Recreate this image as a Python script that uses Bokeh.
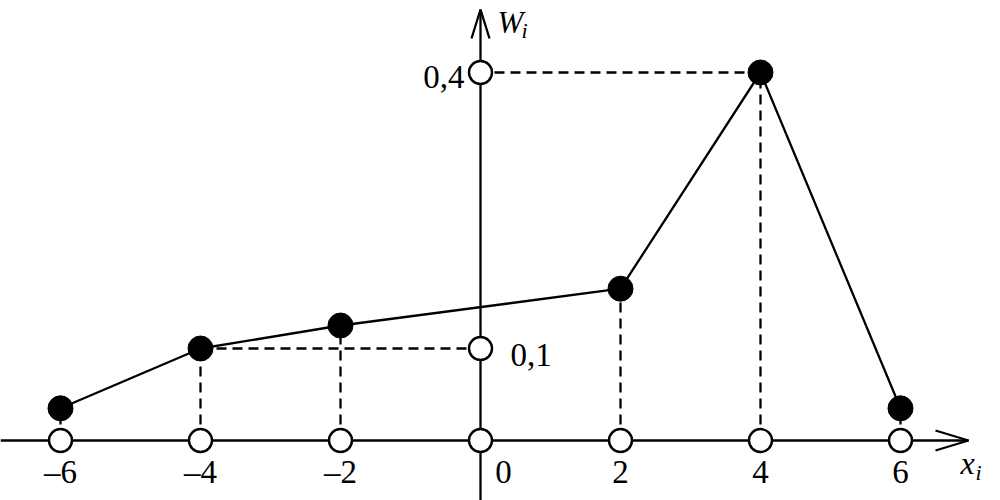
from bokeh.plotting import figure
from bokeh.models import Range1d
from bokeh.core.properties import value
from bokeh.embed import file_html
from bokeh.resources import INLINE

# ---- data ----
x_vals = [-6, -4, -2, 2, 4, 6]
w_vals = [0.035, 0.1, 0.125, 0.165, 0.4, 0.035]
x_ticks = [-6, -4, -2, 2, 4, 6]
x_tick_labels = ["\u20136", "\u20134", "\u20132", "2", "4", "6"]
y_ticks = [0.1, 0.4]
y_tick_labels = ["0,1", "0,4"]
x_axis_name = "x"
y_axis_name = "W"
sub_name = "i"

# ---- layout ----
W, H = 1000, 500
PX = 70.0    # pixels per x unit
PY = 920.0   # pixels per y unit
OX, OY = 480, 440  # origin in canvas px
FONT = "Liberation Serif"
LW = 2.3

def dx(px):
    return px / PX

def dy(px):
    return px / PY

x_range = Range1d(-OX / PX, (W - OX) / PX)
y_range = Range1d(-(H - OY) / PY, OY / PY)

p = figure(width=W, height=H, x_range=x_range, y_range=y_range,
           output_backend="svg", toolbar_location=None, min_border=0)
p.axis.visible = False
p.grid.visible = False
p.outline_line_color = None
p.background_fill_color = "white"

# axes with arrows
x_tip = dx(968 - 480)
y_tip = dy(440 - 9)
p.line([x_range.start, x_tip], [0, 0], line_color="black", line_width=LW)
p.line([x_tip - dx(33), x_tip, x_tip - dx(33)], [dy(10), 0, -dy(10)], line_color="black", line_width=LW)
p.line([0, 0], [y_range.start, y_tip], line_color="black", line_width=LW)
p.line([-dx(9), 0, dx(9)], [y_tip - dy(29), y_tip, y_tip - dy(29)], line_color="black", line_width=LW)

# dashed guides
p.segment(x0=x_vals, y0=[0] * len(x_vals), x1=x_vals, y1=w_vals,
          line_color="black", line_width=LW, line_dash="10 6")
for yt in y_ticks:
    xs = [x for x, w in zip(x_vals, w_vals) if w == yt]
    if xs:
        p.segment(x0=[xs[0]], y0=[yt], x1=[0], y1=[yt],
                  line_color="black", line_width=LW, line_dash="10 6")

# polygon
p.line(x_vals, w_vals, line_color="black", line_width=LW)

# open tick circles
p.scatter(x_ticks + [0], [0] * (len(x_ticks) + 1), size=23, marker="circle",
          fill_color="white", line_color="black", line_width=2.4)
p.scatter([0] * len(y_ticks), y_ticks, size=23, marker="circle",
          fill_color="white", line_color="black", line_width=2.4)

# filled points
p.scatter(x_vals, w_vals, size=25, marker="circle", fill_color="black", line_color="black")

# tick labels
FS = "33px"
p.text(x=x_ticks, y=[0] * len(x_ticks), text=x_tick_labels, text_font=value(FONT),
       text_font_size=FS, text_align="center", text_baseline="middle",
       y_offset=31, text_color="black")
p.text(x=[0], y=[0], text=["0"], text_font=value(FONT), text_font_size=FS,
       text_align="center", text_baseline="middle", x_offset=23, y_offset=31, text_color="black")
p.text(x=[0], y=[y_ticks[1]], text=[y_tick_labels[1]], text_font=value(FONT),
       text_font_size=FS, text_align="right", text_baseline="middle",
       x_offset=-16, y_offset=4, text_color="black")
p.text(x=[0], y=[y_ticks[0]], text=[y_tick_labels[0]], text_font=value(FONT),
       text_font_size=FS, text_align="left", text_baseline="middle",
       x_offset=30, y_offset=6, text_color="black")

# axis names
p.text(x=[dx(497 - 480)], y=[dy(440 - 22)], text=[y_axis_name], text_font=value(FONT),
       text_font_size="31px", text_font_style="italic", text_align="left",
       text_baseline="middle", text_color="black")
p.text(x=[dx(521 - 480)], y=[dy(440 - 30)], text=[sub_name], text_font=value(FONT),
       text_font_size="22px", text_font_style="italic", text_align="left",
       text_baseline="middle", text_color="black")
p.text(x=[dx(960 - 480)], y=[-dy(462 - 440)], text=[x_axis_name], text_font=value(FONT),
       text_font_size="32px", text_font_style="italic", text_align="left",
       text_baseline="middle", text_color="black")
p.text(x=[dx(975 - 480)], y=[-dy(472 - 440)], text=[sub_name], text_font=value(FONT),
       text_font_size="22px", text_font_style="italic", text_align="left",
       text_baseline="middle", text_color="black")

open("out.html", "w").write(file_html(p, INLINE))
